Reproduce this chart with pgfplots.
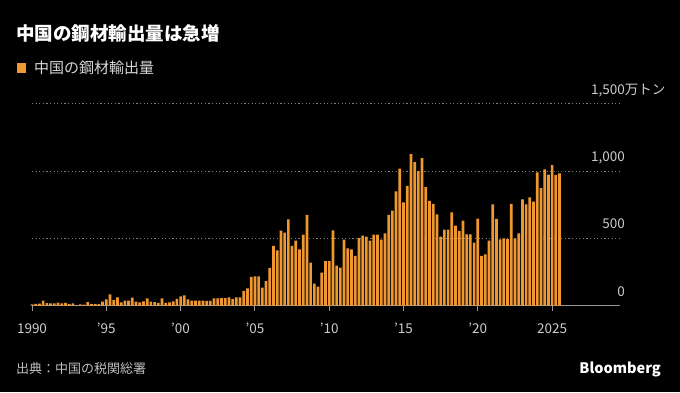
\documentclass[border=0pt]{standalone}
\usepackage{fontspec}
\setmainfont{Noto Sans CJK JP}
\usepackage{pgfplots}
\pgfplotsset{compat=1.18}
\definecolor{barc}{RGB}{240,152,48}
\definecolor{tickc}{RGB}{205,205,205}
\definecolor{gridc}{RGB}{125,125,125}
\definecolor{axisc}{RGB}{150,150,150}
\definecolor{footc}{RGB}{190,190,190}
\definecolor{legc}{RGB}{215,215,215}
\begin{document}
\begin{tikzpicture}
\fill[black] (0,0) rectangle (680pt,392pt);
\useasboundingbox (0,0) rectangle (680pt,392pt);
\node[anchor=west, text=white, font=\fontsize{18.5}{20}\selectfont\bfseries, inner sep=0pt] at (16pt,359pt) {中国の鋼材輸出量は急増};
\fill[barc] (17pt,319.3pt) rectangle (26pt,328.7pt);
\node[anchor=west, text=legc, font=\fontsize{15}{16}\selectfont, inner sep=0pt] at (34pt,324pt) {中国の鋼材輸出量};
\node[anchor=west, text=footc, font=\fontsize{13}{14}\selectfont, inner sep=0pt] at (16pt,23pt) {出典：中国の税関総署};
\node[anchor=east, text=white, font=\fontsize{14.5}{15}\selectfont\bfseries, inner sep=0pt] at (661pt,23pt) {Bloomberg};
\begin{axis}[
  at={(32pt,86.5pt)}, anchor=south west,
  scale only axis, width=587pt, height=201.8pt,
  xmin=1990, xmax=2029.5, ymin=0, ymax=1500,
  clip=false,
  axis x line*=bottom, axis y line*=right,
  x axis line style={-, draw=axisc, line width=1pt},
  y axis line style={draw=none},
  tick align=outside, major tick length=5pt,
  xtick style={draw=axisc, line width=0.9pt},
  ytick style={draw=none},
  xtick={1990,1995,2000,2005,2010,2015,2020,2025},
  xticklabels={1990,'95,'00,'05,'10,'15,'20,2025},
  ytick={0,500,1000,1500},
  yticklabels={0,500,{1,000},{1,500\rlap{万トン}}},
  /pgf/number format/assume math mode=true,
  xticklabel style={font=\fontsize{13.5}{13.5}\selectfont, text=tickc, anchor=base, inner sep=0pt, yshift=-22.5pt},
  yticklabel style={font=\fontsize{13.5}{13.5}\selectfont, text=tickc, anchor=base east, inner sep=0pt, xshift=1pt, yshift=9.5pt},
  ymajorgrids,
  major grid style={draw=gridc, dash pattern=on 1.2pt off 2.4pt, line width=0.8pt},
]
\addplot[ybar, bar width=2.7pt, fill=barc, draw=none] table[row sep=\\] {
x y \\
1990.00 8 \\ 1990.25 12 \\ 1990.50 14 \\ 1990.75 36 \\
1991.00 18 \\ 1991.25 16 \\ 1991.50 16 \\ 1991.75 22 \\
1992.00 16 \\ 1992.25 20 \\ 1992.50 10 \\ 1992.75 16 \\
1993.00 3 \\ 1993.25 8 \\ 1993.50 6 \\ 1993.75 26 \\
1994.00 10 \\ 1994.25 10 \\ 1994.50 10 \\ 1994.75 28 \\
1995.00 45 \\ 1995.25 83 \\ 1995.50 40 \\ 1995.75 60 \\
1996.00 23 \\ 1996.25 36 \\ 1996.50 36 \\ 1996.75 58 \\
1997.00 28 \\ 1997.25 23 \\ 1997.50 30 \\ 1997.75 53 \\
1998.00 28 \\ 1998.25 25 \\ 1998.50 20 \\ 1998.75 53 \\
1999.00 20 \\ 1999.25 23 \\ 1999.50 30 \\ 1999.75 50 \\
2000.00 68 \\ 2000.25 75 \\ 2000.50 45 \\ 2000.75 36 \\
2001.00 36 \\ 2001.25 36 \\ 2001.50 36 \\ 2001.75 34 \\
2002.00 34 \\ 2002.25 53 \\ 2002.50 53 \\ 2002.75 55 \\
2003.00 55 \\ 2003.25 60 \\ 2003.50 48 \\ 2003.75 60 \\
2004.00 60 \\ 2004.25 108 \\ 2004.50 128 \\ 2004.75 213 \\
2005.00 216 \\ 2005.25 216 \\ 2005.50 133 \\ 2005.75 181 \\
2006.00 279 \\ 2006.25 444 \\ 2006.50 409 \\ 2006.75 557 \\
2007.00 542 \\ 2007.25 640 \\ 2007.50 444 \\ 2007.75 482 \\
2008.00 417 \\ 2008.25 527 \\ 2008.50 673 \\ 2008.75 319 \\
2009.00 163 \\ 2009.25 141 \\ 2009.50 244 \\ 2009.75 329 \\
2010.00 329 \\ 2010.25 559 \\ 2010.50 296 \\ 2010.75 281 \\
2011.00 490 \\ 2011.25 425 \\ 2011.50 418 \\ 2011.75 368 \\
2012.00 500 \\ 2012.25 520 \\ 2012.50 512 \\ 2012.75 482 \\
2013.00 527 \\ 2013.25 527 \\ 2013.50 490 \\ 2013.75 537 \\
2014.00 673 \\ 2014.25 706 \\ 2014.50 849 \\ 2014.75 1018 \\
2015.00 767 \\ 2015.25 889 \\ 2015.50 1125 \\ 2015.75 1065 \\
2016.00 998 \\ 2016.25 1095 \\ 2016.50 879 \\ 2016.75 777 \\
2017.00 755 \\ 2017.25 678 \\ 2017.50 512 \\ 2017.75 564 \\
2018.00 564 \\ 2018.25 693 \\ 2018.50 594 \\ 2018.75 554 \\
2019.00 631 \\ 2019.25 529 \\ 2019.50 529 \\ 2019.75 467 \\
2020.00 645 \\ 2020.25 368 \\ 2020.50 380 \\ 2020.75 482 \\
2021.00 752 \\ 2021.25 643 \\ 2021.50 492 \\ 2021.75 499 \\
2022.00 494 \\ 2022.25 755 \\ 2022.50 497 \\ 2022.75 536 \\
2023.00 789 \\ 2023.25 752 \\ 2023.50 804 \\ 2023.75 772 \\
2024.00 990 \\ 2024.25 873 \\ 2024.50 1012 \\ 2024.75 972 \\
2025.00 1044 \\ 2025.25 970 \\ 2025.50 982 \\
};
\end{axis}
\end{tikzpicture}
\end{document}
